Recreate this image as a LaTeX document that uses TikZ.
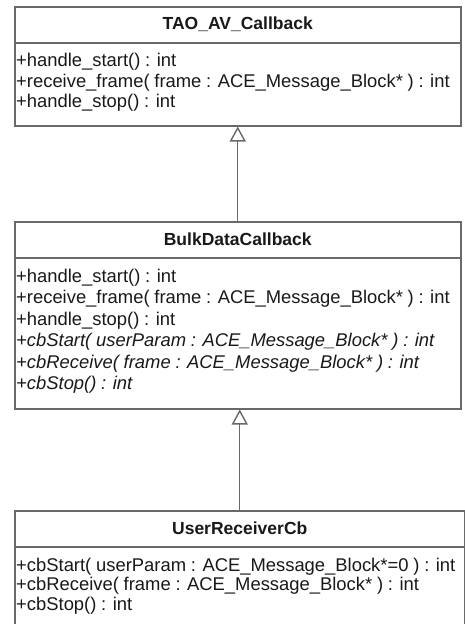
\documentclass[tikz,border=0pt]{standalone}
\usepackage{fontspec}
\setmainfont{Liberation Sans}
\usetikzlibrary{arrows.meta}
\definecolor{bordergray}{RGB}{105,105,105}
\definecolor{textgray}{RGB}{25,25,25}
\newcommand\umlspaces{\spaceskip=0.26em plus 0.05em minus 0.05em\relax}
\newcommand\umlfont{\fontsize{18.4}{21}\selectfont\umlspaces}
\newcommand\umlifont{\fontsize{18.4}{21}\selectfont\itshape\umlspaces}
\begin{document}
\begin{tikzpicture}[x=1pt,y=-1pt,
  classbox/.style={draw=bordergray, line width=1.5pt, rectangle, inner sep=0pt, anchor=north west},
  septitle/.style={draw=bordergray, line width=1.5pt},
  classtitle/.style={font=\fontsize{17.5}{20}\selectfont\bfseries, text=textgray, inner sep=0pt},
  member/.style={font=\umlfont, text=textgray, anchor=base west, inner sep=0pt},
  imember/.style={member, font=\umlifont},
  inherit/.style={draw=bordergray, line width=1.4pt, -{Triangle[open, length=15pt, width=16pt, fill=white]}}]
\useasboundingbox (0,0) rectangle (465,624);
\clip (0,0) rectangle (465,624);
\fill[white] (0,0) rectangle (465,624);

% class boxes
\node[classbox, minimum width=446pt, minimum height=119pt] (c1) at (14,6) {};
\node[classbox, minimum width=446pt, minimum height=187pt] (c2) at (14,221) {};
\node[classbox, minimum width=450pt, minimum height=130pt] (c3) at (14,510) {};

% compartment separators
\draw[septitle] ([yshift=-37pt]c1.north west) -- ([yshift=-37pt]c1.north east);
\draw[septitle] ([yshift=-37pt]c2.north west) -- ([yshift=-37pt]c2.north east);
\draw[septitle] ([yshift=-37pt]c3.north west) -- ([yshift=-37pt]c3.north east);

% titles
\node[classtitle] (t1) at ([yshift=-18.5pt]c1.north) {TAO\_AV\_Callback};
\node[classtitle] (t2) at ([yshift=-18.5pt]c2.north) {BulkDataCallback};
\node[classtitle] (t3) at ([yshift=-18.5pt]c3.north) {UserReceiverCb};

% members of TAO_AV_Callback
\node[member] (m11) at (16,66.5) {+handle\_start() : int};
\node[member] (m12) at (16,87) {+receive\_frame( frame : ACE\_Message\_Block* ) : int};
\node[member] (m13) at (16,107.5) {+handle\_stop() : int};

% members of BulkDataCallback
\node[member] (m21) at (16,282) {+handle\_start() : int};
\node[member] (m22) at (16,303.5) {+receive\_frame( frame : ACE\_Message\_Block* ) : int};
\node[member] (m23) at (16,325) {+handle\_stop() : int};
\node[imember] (m24) at (16,346.5) {+cbStart( userParam : ACE\_Message\_Block* ) : int};
\node[imember] (m25) at (16,368) {+cbReceive( frame : ACE\_Message\_Block* ) : int};
\node[imember] (m26) at (16,389.5) {+cbStop() : int};

% members of UserReceiverCb
\node[member] (m31) at (16,571) {+cbStart( userParam : ACE\_Message\_Block*=0 ) : int};
\node[member] (m32) at (16,590.5) {+cbReceive( frame : ACE\_Message\_Block* ) : int};
\node[member] (m33) at (16,610) {+cbStop() : int};

% generalisations
\draw[inherit] (c2.north) -- (c1.south);
\draw[inherit] (c3.north) -- (c2.south -| c3.north);
\end{tikzpicture}
\end{document}
